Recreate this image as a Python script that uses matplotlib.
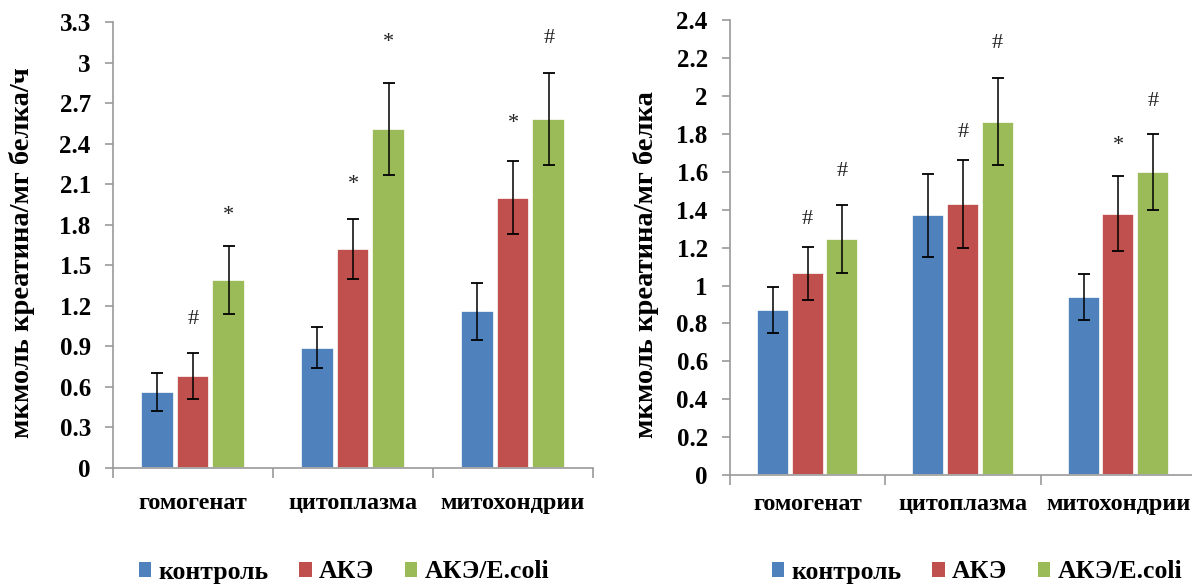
import matplotlib
matplotlib.use("Agg")
import matplotlib.pyplot as plt
import numpy as np
from matplotlib.patches import Patch

categories = ["гомогенат", "цитоплазма", "митохондрии"]
series = ["контроль", "АКЭ", "АКЭ/E.coli"]
colors = ["#4F81BD", "#C0504D", "#9BBB59"]

# Left chart
left_vals = [[0.56, 0.89, 1.16],
             [0.68, 1.62, 2.00],
             [1.39, 2.51, 2.58]]
left_err = [[0.14, 0.15, 0.21],
            [0.17, 0.22, 0.27],
            [0.25, 0.34, 0.34]]
left_marks = [["", "", ""],
              ["#", "*", "*"],
              ["*", "*", "#"]]
left_mark_y = [[0, 0, 0],
               [1.10, 2.10, 2.55],
               [1.87, 3.15, 3.18]]
left_ticks = [0, 0.3, 0.6, 0.9, 1.2, 1.5, 1.8, 2.1, 2.4, 2.7, 3, 3.3]
left_ticklabels = ["0", "0.3", "0.6", "0.9", "1.2", "1.5", "1.8", "2.1", "2.4", "2.7", "3", "3.3"]
left_ylabel = "мкмоль креатина/мг белка/ч"

# Right chart
right_vals = [[0.87, 1.37, 0.94],
              [1.065, 1.43, 1.38],
              [1.245, 1.865, 1.60]]
right_err = [[0.12, 0.22, 0.12],
             [0.14, 0.23, 0.20],
             [0.18, 0.23, 0.20]]
right_marks = [["", "", ""],
               ["#", "#", "*"],
               ["#", "#", "#"]]
right_mark_y = [[0, 0, 0],
                [1.35, 1.81, 1.74],
                [1.60, 2.28, 1.97]]
right_ticks = [0, 0.2, 0.4, 0.6, 0.8, 1, 1.2, 1.4, 1.6, 1.8, 2, 2.2, 2.4]
right_ticklabels = ["0", "0.2", "0.4", "0.6", "0.8", "1", "1.2", "1.4", "1.6", "1.8", "2", "2.2", "2.4"]
right_ylabel = "мкмоль креатина/мг белка"

plt.rcParams['font.family'] = ['Liberation Serif', 'DejaVu Serif']

W, H = 1192, 587
fig = plt.figure(figsize=(W / 100, H / 100), dpi=100)

def draw(ax, vals, errs, marks, mark_y, ticks, ticklabels, ylabel, ymax, bw, step, xpad):
    x = np.arange(len(categories))
    for i in range(len(series)):
        pos = x + (i - 1) * step
        ax.bar(pos, vals[i], width=bw, color=colors[i], edgecolor="white",
               linewidth=1.2, zorder=2)
        ax.errorbar(pos, vals[i], yerr=errs[i], fmt="none", ecolor="black",
                    elinewidth=1.1, capsize=4.5, capthick=1.3, zorder=3)
        for j in range(len(categories)):
            if marks[i][j]:
                ax.text(pos[j], mark_y[i][j], marks[i][j], ha="center", va="center",
                        fontsize=16, color="#222222")
    ax.set_xlim(-0.5, len(categories) - 0.5)
    ax.set_ylim(0, ymax)
    ax.set_yticks(ticks)
    ax.set_yticklabels(ticklabels, fontsize=18, fontweight="bold")
    ax.set_xticks(x)
    ax.set_xticklabels(categories, fontsize=17.5, fontweight="bold")
    ax.set_xticks(np.arange(len(categories) + 1) - 0.5, minor=True)
    ax.tick_params(axis="x", which="major", length=0, pad=xpad)
    ax.tick_params(axis="x", which="minor", length=7, color="#999999", width=1.2)
    ax.tick_params(axis="y", length=6, color="#999999", width=1.2, pad=10)
    for s in ["top", "right"]:
        ax.spines[s].set_visible(False)
    for s in ["left", "bottom"]:
        ax.spines[s].set_color("#999999")
        ax.spines[s].set_linewidth(1.2)
    ax.set_ylabel(ylabel, fontsize=20.5, fontweight="bold")

ax1 = fig.add_axes([113 / W, 1 - 468 / H, 480 / W, 446 / H])
draw(ax1, left_vals, left_err, left_marks, left_mark_y, left_ticks, left_ticklabels,
     left_ylabel, 3.3, 0.206, 0.224, 18)
ax1.yaxis.set_label_coords(-(113 - 22) / 480, (468 - 253) / 446)
ax1.yaxis.label.set_va("center")

ax2 = fig.add_axes([730 / W, 1 - 475 / H, 466 / W, 454.7 / H])
draw(ax2, right_vals, right_err, right_marks, right_mark_y, right_ticks, right_ticklabels,
     right_ylabel, 2.4, 0.206, 0.223, 14)
ax2.yaxis.set_label_coords(-(730 - 646) / 466, (475 - 265) / 454.7)
ax2.yaxis.label.set_va("center")

handles = [Patch(facecolor=c, edgecolor="none") for c in colors]
for cx in [344 / W, 977 / W]:
    fig.legend(handles, series, loc="center", bbox_to_anchor=(cx, 1 - 572 / H),
               ncol=3, frameon=False, prop={"size": 18.5, "weight": "bold"},
               handlelength=0.48, handleheight=0.48, handletextpad=0.28,
               columnspacing=1.2, borderpad=0, borderaxespad=0)

fig.savefig("out.png", dpi=100)
